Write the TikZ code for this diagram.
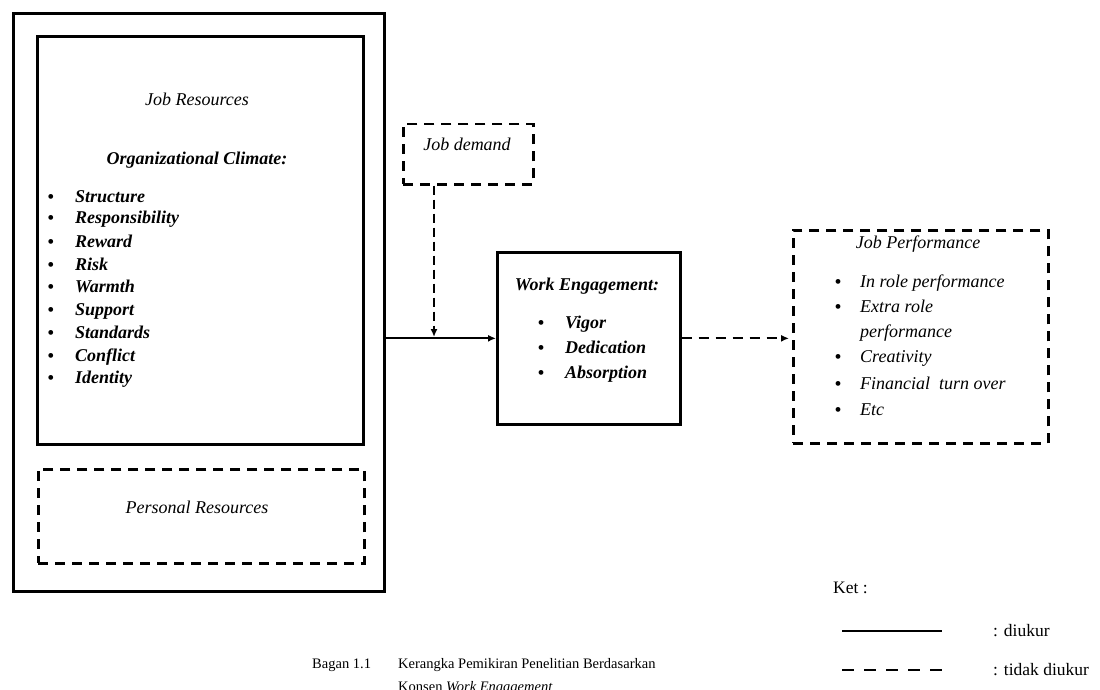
\documentclass[tikz,border=0pt]{standalone}
\usepackage{fontspec}
\setmainfont{Liberation Serif}
\usetikzlibrary{arrows.meta}
\begin{document}
\begin{tikzpicture}[x=1pt,y=-1pt,
  solidbox/.style={draw,line width=2.7pt,inner sep=0pt,anchor=north west},
  dashbox/.style={draw,line width=2.5pt,dash pattern=on 10pt off 7pt,inner sep=0pt,anchor=north west},
  itxt/.style={font=\fontsize{18}{22}\selectfont\itshape,inner sep=0pt,anchor=base},
  bitxt/.style={font=\fontsize{18}{22}\selectfont\bfseries\itshape,inner sep=0pt,anchor=base},
  itemi/.style={font=\fontsize{18}{22}\selectfont\itshape,inner sep=0pt,anchor=base west},
  itemb/.style={font=\fontsize{18}{22}\selectfont\bfseries\itshape,inner sep=0pt,anchor=base west},
  bul/.style={font=\fontsize{20}{22}\selectfont,inner sep=0pt,anchor=base},
  leg/.style={font=\fontsize{17.5}{21}\selectfont,inner sep=0pt,anchor=base west},
  captxt/.style={font=\fontsize{14.5}{17}\selectfont,inner sep=0pt,anchor=base west},
  arr/.style={-{Latex[length=8pt,width=7pt]},line width=2.1pt},
]
\useasboundingbox (0,0) rectangle (1100,690);

% boxes
\node[solidbox,minimum width=371pt,minimum height=578pt] (outer) at (12,12) {};
\node[solidbox,minimum width=326pt,minimum height=408pt] (jr) at (36,35) {};
\node[dashbox,minimum width=326pt,minimum height=94pt] (pr) at (37,468) {};
\node[dashbox,minimum width=130pt,minimum height=60pt] (jd) at (402,123) {};
\node[solidbox,minimum width=183pt,minimum height=172pt] (we) at (496,251) {};
\node[dashbox,minimum width=255pt,minimum height=213pt] (jp) at (792,229) {};

% Job Resources
\node[itxt] (jrt) at (197,105.5) {Job Resources};
\node[bitxt] (oc) at (197,164.5) {Organizational Climate:};
\foreach \t/\y [count=\i] in {Structure/197,Responsibility/218,Reward/242,Risk/265,Warmth/287,Support/310,Standards/333,Conflict/356,Identity/378}{
  \node[bul] (jrb\i) at (51,\y+6) {\textbullet};
  \node[itemb] (jri\i) at (75,\y+5.5) {\t};
}

% Personal Resources
\node[itxt] (prt) at (197,513) {Personal Resources};

% Job demand
\node[itxt] (jdt) at (467,150.5) {Job demand};

% Work Engagement
\node[bitxt] (wet) at (587,290.5) {Work Engagement:};
\foreach \t/\y [count=\i] in {Vigor/323,Dedication/348,Absorption/373}{
  \node[bul] (web\i) at (541,\y+6) {\textbullet};
  \node[itemb] (wei\i) at (565,\y+5.5) {\t};
}

% Job Performance
\node[itxt] (jpt) at (918,248.5) {Job Performance};
\foreach \y [count=\i] in {282,307,357,384,410}{
  \node[bul] (jpb\i) at (838,\y+6) {\textbullet};
}
\node[itemi] (jpi1) at (860,287.5) {In role performance};
\node[itemi] (jpi2) at (860,312.5) {Extra role};
\node[itemi] (jpi2b) at (860,337.5) {performance};
\node[itemi] (jpi3) at (860,362.5) {Creativity};
\node[itemi] (jpi4) at (860,389.5) {Financial\ \ turn over};
\node[itemi] (jpi5) at (860,415.5) {Etc};

% connectors
\coordinate (jdx) at (434,337);
\draw[arr] (we.west -| outer.east) -- (we.west);
\draw[arr,dash pattern=on 9pt off 5pt] (jd.south -| jdx) -- (jdx);
\draw[arr,dash pattern=on 10pt off 7pt,shorten >=3pt] (we.east) -- (we.east -| jp.west);

% legend
\node[leg] (ket) at (833,593) {Ket :};
\coordinate (s1) at (842,631);
\coordinate (s2) at (942,631);
\coordinate (d1) at (842,670);
\coordinate (d2) at (942,670);
\draw[line width=2.6pt] (s1) -- (s2);
\draw[line width=2.6pt,dash pattern=on 12pt off 10pt] (d1) -- (d2);
\node[leg] (l1) at (993,636.5) {: diukur};
\node[leg] (l2) at (993,675.5) {: tidak diukur};

% caption
\node[captxt] (c0) at (312,668) {Bagan 1.1};
\node[captxt] (c1) at (398,668) {Kerangka Pemikiran Penelitian Berdasarkan};
\node[captxt] (c2) at (398,691) {Konsen \textit{Work Engagement}};
\end{tikzpicture}
\end{document}
